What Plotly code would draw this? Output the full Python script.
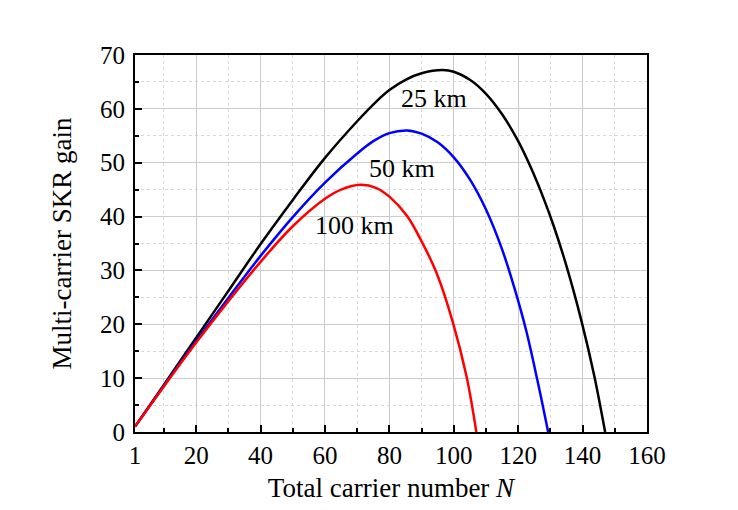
import plotly.graph_objects as go

# Multi-carrier SKR gain versus total carrier number N, for three distances
n_25 = [1, 10, 20, 30, 40, 50, 60, 70, 76, 80, 85, 90, 96.5, 100, 105, 110, 115, 120, 124, 128, 131, 135, 139.7, 143.6, 147]
g_25 = [1, 8.8, 17.5, 26.2, 34.9, 43.1, 50.9, 57.7, 61.4, 63.5, 65.4, 66.6, 67.2, 66.9, 65.4, 62.8, 59.0, 54.0, 49.0, 43.2, 38.3, 30.8, 20.5, 10.5, 0]

n_50 = [1, 10, 20, 30, 40, 50, 60, 70, 75, 80, 85.5, 90, 95, 100, 105, 110, 115, 119, 122.5, 126, 129.3]
g_50 = [1, 8.6, 16.9, 24.9, 32.7, 39.9, 46.3, 51.7, 54.0, 55.5, 56.0, 55.4, 53.8, 51.0, 46.9, 41.3, 33.9, 26.4, 18.8, 9.5, 0]

n_100 = [1, 10, 20, 30, 40, 50, 60, 65, 71, 76, 80, 85.5, 90, 94.6, 99.6, 104, 107]
g_100 = [1, 8.5, 16.6, 24.3, 31.6, 38.2, 43.3, 45.0, 45.9, 45.3, 43.7, 40.1, 35.4, 29.6, 20.6, 10.2, 0]

labels = ["25 km", "50 km", "100 km"]
colors = ["#000000", "#0000ff", "#ff0000"]
label_pos = [(93.8, 61.9), (84.0, 49.0), (69.1, 38.3)]

x_ticks = [1, 20, 40, 60, 80, 100, 120, 140, 160]
y_ticks = [0, 10, 20, 30, 40, 50, 60, 70]

font_family = "Liberation Serif, Times New Roman, serif"

fig = go.Figure()
for (xs, ys), c in zip([(n_25, g_25), (n_50, g_50), (n_100, g_100)], colors):
    fig.add_trace(go.Scatter(
        x=xs, y=ys, mode="lines",
        line=dict(color=c, width=2.5, shape="spline", smoothing=1.0),
        showlegend=False, hoverinfo="skip",
    ))

for txt, (lx, ly) in zip(labels, label_pos):
    fig.add_annotation(x=lx, y=ly, text=txt, showarrow=False,
                       font=dict(family=font_family, size=26, color="black"))

axis_common = dict(
    showline=True, linecolor="black", linewidth=2, mirror=True,
    ticks="inside", ticklen=7, tickwidth=2, tickcolor="black",
    showgrid=True, gridcolor="#cccccc", gridwidth=1,
    zeroline=False,
    tickfont=dict(family=font_family, size=25, color="black"),
)
minor_common = dict(
    tickmode="array", ticks="inside", ticklen=4, tickwidth=2, tickcolor="black",
    showgrid=True, gridcolor="#d8d8d8", griddash="dot", gridwidth=1,
)

fig.update_xaxes(
    range=[1, 160], tickmode="array", tickvals=x_ticks,
    ticktext=[str(v) for v in x_ticks],
    minor=dict(tickvals=list(range(10, 160, 20)), **minor_common),
    title=dict(text="Total carrier number <i>N</i>",
               font=dict(family=font_family, size=27, color="black"), standoff=10),
    **axis_common,
)
fig.update_yaxes(
    range=[0, 70], tickmode="array", tickvals=y_ticks,
    ticklabelstandoff=3,
    minor=dict(tickvals=list(range(5, 70, 10)), **minor_common),
    title=dict(text="Multi-carrier SKR gain",
               font=dict(family=font_family, size=27, color="black"), standoff=21),
    **axis_common,
)

fig.update_layout(
    width=738, height=510,
    margin=dict(l=135, r=91, t=55, b=76),
    paper_bgcolor="white", plot_bgcolor="white",
)

fig.write_html("out.html")
